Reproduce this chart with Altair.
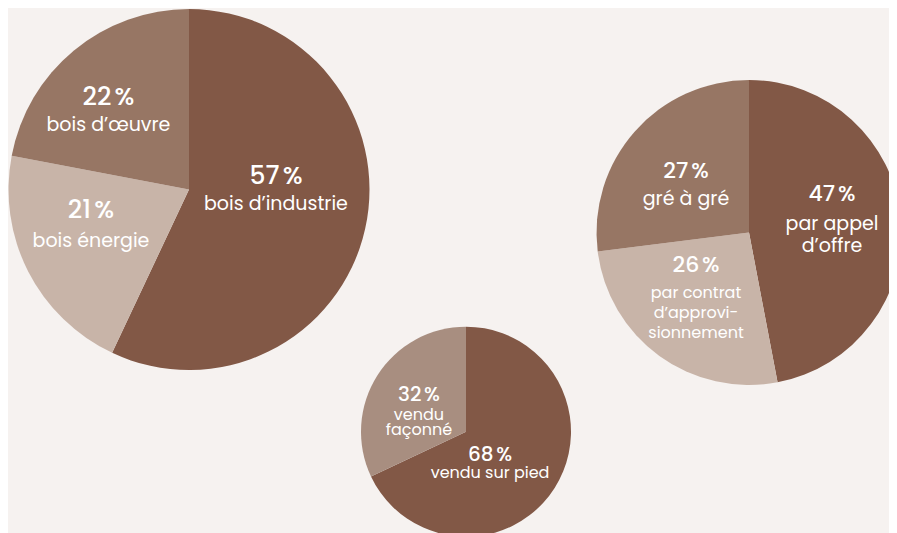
import altair as alt
import pandas as pd

# ---------------- data ----------------
p1_labels = ["bois d’industrie", "bois énergie", "bois d’œuvre"]
p1_values = [57, 21, 22]

p2_labels = ["par appel\nd’offre", "par contrat\nd’approvi-\nsionnement", "gré à gré"]
p2_values = [47, 26, 27]

p3_labels = ["vendu sur pied", "vendu\nfaçonné"]
p3_values = [68, 32]

# ---------------- styles ----------------
BG = "#f6f2f0"
DARK, MID, LIGHT, SOFT = "#825846", "#977664", "#c8b4a8", "#a88e80"
FONT = "Poppins, Open Sans, sans-serif"

color_domain = p1_labels + p2_labels + p3_labels
color_range = [DARK, LIGHT, MID, DARK, LIGHT, MID, DARK, SOFT]

# pie layout: centre, radius, and per-slice label placement
pies = [
    dict(labels=p1_labels, values=p1_values, cx=180, cy=181.5, r=180.5,
         text=[
             dict(R=85, dx=4, dy=-18, pdy=-14, ldy=14, ps=25, ls=19, lh=22),
             dict(R=103.6, dx=-5.7, dy=-11, pdy=-15.5, ldy=15.5, ps=25, ls=19, lh=22),
             dict(R=111.8, dx=-9.3, dy=7.7, pdy=-14, ldy=14, ps=25, ls=19, lh=22),
         ]),
    dict(labels=p2_labels, values=p2_values, cx=740, cy=224.5, r=152.5,
         text=[
             dict(R=83.7, dx=-0.3, dy=-3.6, pdy=-27, ldy=14, ps=22, ls=19, lh=22),
             dict(R=80.1, dx=-5.9, dy=-4.3, pdy=-28, ldy=20, ps=22, ls=16, lh=20),
             dict(R=78.7, dx=-4, dy=4.5, pdy=-14, ldy=14, ps=22, ls=19, lh=22),
         ]),
    dict(labels=p3_labels, values=p3_values, cx=457, cy=423.7, r=105,
         text=[
             dict(R=37.6, dx=-7.7, dy=12.1, pdy=-9, ldy=9, ps=20, ls=16, lh=16),
             dict(R=48.6, dx=-6, dy=9.3, pdy=-20, ldy=7.5, ps=20, ls=16, lh=15),
         ]),
]

theta_scale = alt.Scale(domain=[0, 100])
layers = []
for pie in pies:
    df = pd.DataFrame({
        "label": pie["labels"],
        "value": pie["values"],
        "order": list(range(len(pie["labels"]))),
    })
    arc = alt.Chart(df).mark_arc(radius=pie["r"], strokeWidth=0).encode(
        theta=alt.Theta("value:Q", stack=True, scale=theta_scale),
        order=alt.Order("order:Q"),
        color=alt.Color("label:N", scale=alt.Scale(domain=color_domain, range=color_range), legend=None),
        x=alt.value(pie["cx"]),
        y=alt.value(pie["cy"]),
    )
    layers.append(arc)

    base = alt.Chart(df).transform_window(
        cum="sum(value)", sort=[alt.SortField("order")]
    ).transform_calculate(
        mid="datum.cum - datum.value / 2",
        pct="datum.value + '\u202f%'",
    )
    for lab, t in zip(pie["labels"], pie["text"]):
        sel = base.transform_filter(alt.datum.label == lab)
        enc = dict(
            theta=alt.Theta("mid:Q", stack=None, scale=theta_scale),
            x=alt.value(pie["cx"]),
            y=alt.value(pie["cy"]),
        )
        n_lines = lab.count("\n") + 1
        first_line = t["ldy"] - (n_lines - 1) * t["lh"] / 2
        pct = sel.mark_text(
            radius=t["R"], dx=t["dx"], dy=t["dy"] + t["pdy"], align="center", baseline="middle",
            font=FONT, fontSize=t["ps"], fontWeight=500, color="#ffffff",
        ).encode(text="pct:N", **enc)
        lbl = sel.mark_text(
            radius=t["R"], dx=t["dx"], dy=t["dy"] + first_line, align="center", baseline="middle",
            font=FONT, fontSize=t["ls"], fontWeight=400, color="#ffffff",
            lineBreak="\n", lineHeight=t["lh"],
        ).encode(text="label:N", **enc)
        layers += [pct, lbl]

chart = alt.layer(*layers).properties(
    width=881, height=525, padding=0, background=BG,
    autosize=alt.AutoSizeParams(type="fit", contains="padding"),
).configure_view(stroke=None)

chart.save("out.html", embed_options={"renderer": "svg", "actions": False})
